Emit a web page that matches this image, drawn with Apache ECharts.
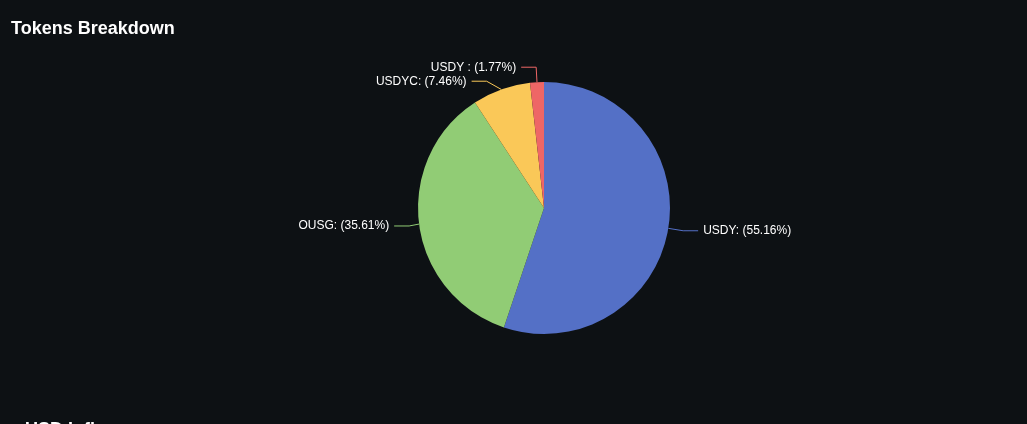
<!DOCTYPE html>
<html>
<head>
<meta charset="utf-8">
<script src="https://cdn.jsdelivr.net/npm/echarts@6/dist/echarts.min.js"></script>
<style>
html,body{margin:0;padding:0;background:#0d1114;overflow:hidden;}
#chart{width:1027px;height:424px;}
</style>
</head>
<body>
<div id="chart"></div>
<script>
const names = ['USDY', 'OUSG', 'USDYC', 'USDY '];
const values = [55.16, 35.61, 7.46, 1.77];
const colors = ['#5470c6', '#91cc75', '#fac858', '#ee6666'];

const chart = echarts.init(document.getElementById('chart'));
chart.setOption({
  backgroundColor: '#0d1114',
  title: [
    { text: 'Tokens Breakdown', left: 6, top: 15, textStyle: { color: '#ffffff', fontSize: 18, fontWeight: 'bold', fontFamily: 'Liberation Sans, Arial, sans-serif' } },
    { text: 'USD Inflows', left: 20, top: 416, textStyle: { color: '#ffffff', fontSize: 18, fontWeight: 'bold', fontFamily: 'Liberation Sans, Arial, sans-serif' } }
  ],
  color: colors,
  series: [{
    type: 'pie',
    center: [544, 208],
    radius: 126,
    data: names.map((n, i) => ({ name: n, value: values[i] })),
    label: {
      formatter: '{b}: ({d}%)',
      color: '#ffffff',
      fontSize: 12,
      fontWeight: 500,
      fontFamily: 'Liberation Sans, Arial, sans-serif'
    },
    labelLine: { length: 15, length2: 15 },
    itemStyle: { borderColor: 'transparent', borderWidth: 0 }
  }]
});
</script>
</body>
</html>
